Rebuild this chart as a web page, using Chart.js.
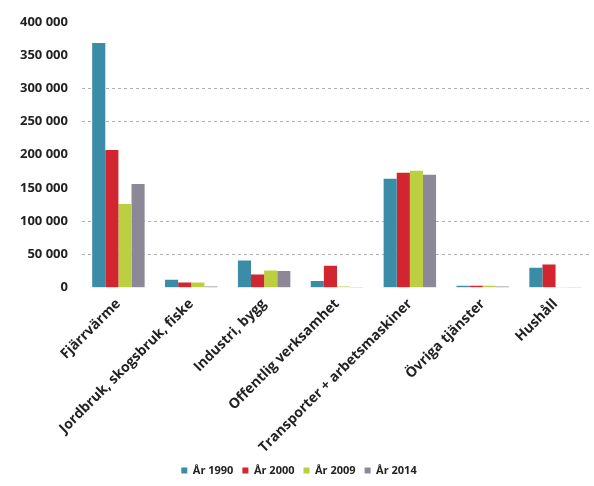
<!DOCTYPE html>
<html lang="sv">
<head>
    <meta charset="UTF-8">
    <title>Utsläpp per sektor</title>
    <style>
        html, body { margin: 0; padding: 0; background: #fff; }
        #wrap { width: 594px; height: 486px; }
    </style>
</head>
<body>
    <div id="wrap">
        <canvas id="myChart" width="594" height="486"></canvas>
    </div>

<script src="https://cdn.jsdelivr.net/npm/chart.js@4/dist/chart.umd.min.js"></script>
<script>
    // categories and values
    var sectors = [
        'Fjärrvärme',
        'Jordbruk, skogsbruk, fiske',
        'Industri, bygg',
        'Offentlig verksamhet',
        'Transporter + arbetsmaskiner',
        'Övriga tjänster',
        'Hushåll'
    ];
    var years = ['År 1990', 'År 2000', 'År 2009', 'År 2014'];
    var y1990 = [368000, 12000, 41000, 10000, 164000, 3000, 30000];
    var y2000 = [207000, 8000, 20000, 33000, 173000, 3000, 35000];
    var y2009 = [126000, 8000, 26000, 2000, 176000, 3000, 1000];
    var y2014 = [156000, 2000, 25000, 1000, 170000, 2000, 500];
    var yTicks = [0, 50000, 100000, 150000, 200000, 250000, 300000, 350000, 400000];

    var colors = ['#3b8ca6', '#d1262f', '#bccf40', '#8d8898'];
    var series = [y1990, y2000, y2009, y2014];

    var datasets = [];
    for (var i = 0; i < years.length; i++) {
        datasets.push({
            label: years[i],
            data: series[i],
            backgroundColor: colors[i],
            borderWidth: 0
        });
    }

    // the scan only shows some of the dashed grid lines
    var shownGrid = [1, 2, 5, 6];

    var ctx = document.getElementById('myChart').getContext('2d');
    var chart = new Chart(ctx, {
        type: 'bar',
        data: { labels: sectors, datasets: datasets },
        options: {
            responsive: false,
            animation: false,
            layout: { padding: { top: 14, left: 6, right: 2, bottom: 0 } },
            datasets: { bar: { categoryPercentage: 0.72, barPercentage: 1.0 } },
            plugins: {
                legend: {
                    position: 'bottom',
                    labels: {
                        usePointStyle: true,
                        pointStyle: 'rect',
                        boxWidth: 6,
                        boxHeight: 6,
                        padding: 9,
                        color: '#222',
                        font: { family: 'Open Sans', size: 11, weight: 'bold' }
                    }
                },
                tooltip: { enabled: false }
            },
            scales: {
                x: {
                    grid: { display: false },
                    border: { display: false },
                    ticks: {
                        maxRotation: 45,
                        minRotation: 45,
                        autoSkip: false,
                        padding: 0,
                        color: '#222',
                        font: { family: 'Open Sans', size: 14, weight: 'bold' }
                    }
                },
                y: {
                    min: 0,
                    max: 400000,
                    afterBuildTicks: function (axis) {
                        axis.ticks = yTicks.map(function (v) { return { value: v }; });
                    },
                    border: { display: false, dash: [3, 3] },
                    grid: {
                        drawTicks: false,
                        lineWidth: 1,
                        color: function (c) {
                            return shownGrid.indexOf(c.index) >= 0 ? '#b0b0b0' : 'rgba(255,255,255,0)';
                        }
                    },
                    ticks: {
                        padding: 14,
                        color: '#222',
                        font: { family: 'Open Sans', size: 13, weight: 'bold' },
                        callback: function (v) {
                            return String(v).replace(/\B(?=(\d{3})+(?!\d))/g, ' ');
                        }
                    }
                }
            }
        }
    });
</script>
</body>
</html>
